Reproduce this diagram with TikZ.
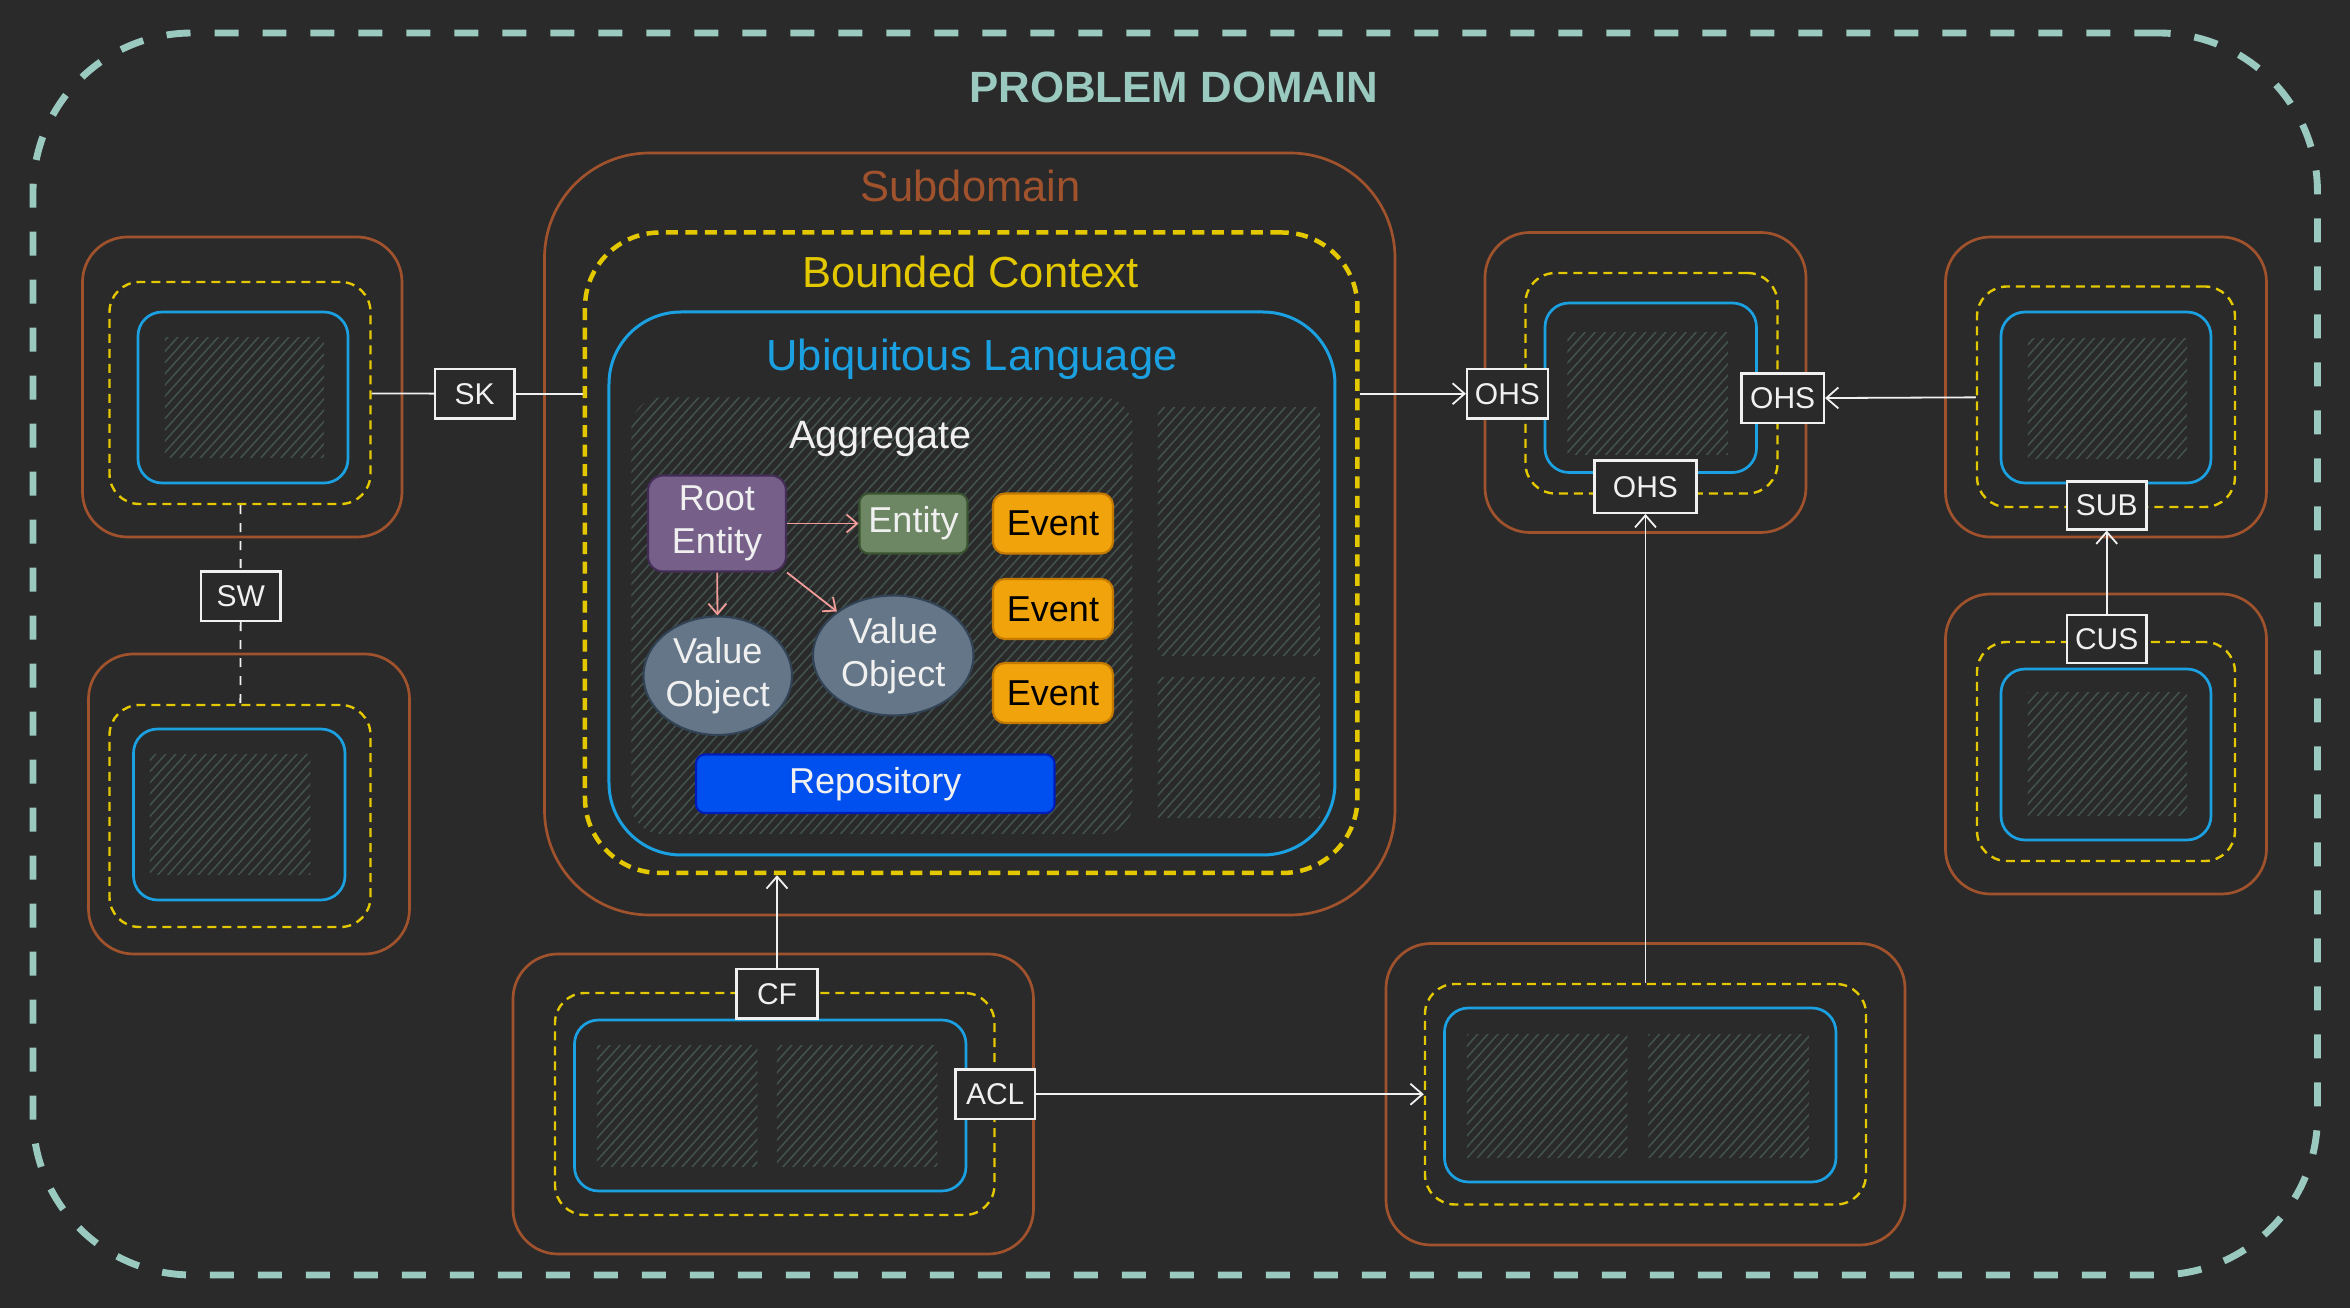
\documentclass[tikz,border=0pt]{standalone}
\usepackage{fontspec}
\setmainfont{Liberation Sans}
\usetikzlibrary{
    arrows.meta,
    patterns.meta,
    shapes.geometric,
    calc,
    positioning
}

\definecolor{bgc}{HTML}{2A2A2A}
\definecolor{domainc}{HTML}{9AC9C0}
\definecolor{brownc}{HTML}{A0522D}
\definecolor{yellowc}{HTML}{E3C800}
\definecolor{bluec}{HTML}{1BA1E2}
\definecolor{hatchc}{HTML}{43534E}
\definecolor{purplec}{HTML}{76608A}
\definecolor{purpled}{HTML}{432D57}
\definecolor{greenc}{HTML}{6D8764}
\definecolor{greend}{HTML}{3A5431}
\definecolor{orangec}{HTML}{F0A30A}
\definecolor{oranged}{HTML}{C47A00}
\definecolor{slatec}{HTML}{647687}
\definecolor{slated}{HTML}{314354}
\definecolor{repoc}{HTML}{0050EF}
\definecolor{repod}{HTML}{001DBC}
\definecolor{pinkc}{HTML}{F19C99}
\definecolor{whitec}{HTML}{F0F0F0}

\tikzset{
    sz/.style 2 args={minimum width=#1*0.5pt, minimum height=#2*0.5pt},
    problemframe/.style={draw=domainc, line width=2.3pt, dash pattern=on 8pt off 8pt, rounded corners=53pt, inner sep=0pt},
    problemtitle/.style={text=domainc, font=\bfseries\fontsize{14.6}{17}\selectfont, anchor=base},
    boxtitle/.style={font=\fontsize{14.5}{17}\selectfont, anchor=base},
    subdom/.style={draw=brownc, line width=0.9pt, inner sep=0pt},
    bcbig/.style={draw=yellowc, line width=1.5pt, dash pattern=on 4pt off 2.5pt, inner sep=0pt},
    ulbig/.style={draw=bluec, line width=1pt, inner sep=0pt},
    subsmall/.style={draw=brownc, line width=0.9pt, rounded corners=15pt, inner sep=0pt},
    bcsmall/.style={draw=yellowc, line width=0.8pt, dash pattern=on 3pt off 2pt, rounded corners=10pt, inner sep=0pt},
    ulsmall/.style={draw=bluec, line width=0.9pt, rounded corners=8pt, inner sep=0pt},
    hatch/.style={pattern={Lines[angle=48, distance=2.5pt, line width=0.5pt]}, pattern color=hatchc, inner sep=0pt},
    aggitem/.style={font=\fontsize{12}{14.5}\selectfont, inner sep=0pt, align=center, line width=0.7pt},
    rel/.style={draw=whitec, fill=bgc, line width=0.7pt, text=whitec, font=\fontsize{10}{12}\selectfont, inner sep=0pt},
    conn/.style={draw=whitec, line width=0.6pt},
    arrowtip/.style={-{Straight Barb[length=4pt, width=7pt]}},
    aggarrow/.style={draw=pinkc, line width=0.6pt, -{Straight Barb[length=3.5pt, width=6pt]}}
}

\begin{document}
\begin{tikzpicture}[x=0.5pt, y=-0.5pt]
\useasboundingbox[fill=bgc] (0,0) rectangle (1566.7,872);

\node[problemframe, sz={1523}{828}] (problem) at (783.5,436) {};
\node[problemtitle] (problemlabel) at (782.5,68.2) {PROBLEM DOMAIN};

% core subdomain
\node[subdom, sz={567}{508}, rounded corners=35pt] (sd) at (646.5,356) {};
\node[bcbig, sz={515}{427}, rounded corners=25pt] (bc) at (647.5,368.5) {};
\node[ulbig, sz={484}{362}, rounded corners=24pt] (ul) at (648,389) {};
\node[hatch, sz={334}{291}, rounded corners=10pt] (agg) at (588,410.5) {};
\node[hatch, sz={108}{165}] (sparea) at (826,354.5) {};
\node[hatch, sz={108}{93}] (sparec) at (826,498.5) {};
\node[boxtitle, text=brownc] (sdtitle) at (647,134.5) {Subdomain};
\node[boxtitle, text=yellowc] (bctitle) at (647,192) {Bounded Context};
\node[boxtitle, text=bluec] (ultitle) at (648,246.7) {Ubiquitous Language};
\node[boxtitle, text=whitec, font=\fontsize{13.2}{15}\selectfont] (aggtitle) at (587,299) {Aggregate};

\node[aggitem, fill=purplec, draw=purpled, text=whitec, rounded corners=5pt, sz={92}{64}] (root) at (478,349) {Root\\Entity};
\node[aggitem, fill=greenc, draw=greend, text=whitec, rounded corners=3pt, sz={72}{40}] (entity) at (609,349) {Entity};
\node[aggitem, fill=orangec, draw=oranged, text=black, rounded corners=4pt, sz={80}{40}] (event1) at (702,349) {Event};
\node[aggitem, fill=orangec, draw=oranged, text=black, rounded corners=4pt, sz={80}{40}] (event2) at (702,406) {Event};
\node[aggitem, fill=orangec, draw=oranged, text=black, rounded corners=4pt, sz={80}{40}] (event3) at (702,462) {Event};
\node[aggitem, ellipse, fill=slatec, draw=slated, text=whitec, sz={99}{79}] (vo1) at (478.5,450.5) {Value\\Object};
\node[aggitem, ellipse, fill=slatec, draw=slated, text=whitec, sz={107}{80}] (vo2) at (595.5,437) {Value\\Object};
\node[aggitem, fill=repoc, draw=repod, text=whitec, rounded corners=3pt, sz={239}{39}] (repo) at (583.5,522.5) {Repository};

\draw[aggarrow] (root) -- (entity);
\draw[aggarrow] (root) -- (vo1);
\draw[aggarrow] (root.south east) -- (vo2);

% left contexts
\node[subsmall, sz={213}{200}] (lt-sd) at (161.5,258) {};
\node[bcsmall, sz={174}{148}] (lt-bc) at (160,262) {};
\node[ulsmall, sz={140}{114}] (lt-ul) at (162,265) {};
\node[hatch, sz={106}{80}] (lt-h) at (163,265) {};

\node[subsmall, sz={214}{200}] (lb-sd) at (166,536) {};
\node[bcsmall, sz={174}{148}] (lb-bc) at (160,544) {};
\node[ulsmall, sz={141}{114}] (lb-ul) at (159.5,543) {};
\node[hatch, sz={107}{80}] (lb-h) at (153.5,543) {};

% right contexts
\node[subsmall, sz={214}{200}] (rm-sd) at (1097,255) {};
\node[bcsmall, sz={168}{147}] (rm-bc) at (1101,255.5) {};
\node[ulsmall, sz={141}{113}] (rm-ul) at (1100.5,258.5) {};
\node[hatch, sz={107}{81}] (rm-h) at (1098.5,262.5) {};

\node[subsmall, sz={214}{200}] (rt-sd) at (1404,258) {};
\node[bcsmall, sz={172}{147}] (rt-bc) at (1404,264.5) {};
\node[ulsmall, sz={140}{114}] (rt-ul) at (1404,265) {};
\node[hatch, sz={106}{80}] (rt-h) at (1405,266) {};

\node[subsmall, sz={214}{200}] (rb-sd) at (1404,496) {};
\node[bcsmall, sz={172}{146}] (rb-bc) at (1404,501) {};
\node[ulsmall, sz={140}{114}] (rb-ul) at (1404,503) {};
\node[hatch, sz={106}{82}] (rb-h) at (1405,503) {};

% bottom contexts
\node[subsmall, sz={347}{200}] (bl-sd) at (515.5,736) {};
\node[bcsmall, sz={293}{148}] (bl-bc) at (516.5,736) {};
\node[ulsmall, sz={261}{114}] (bl-ul) at (513.5,737) {};
\node[hatch, sz={107}{81}] (bl-ha) at (451.5,737.5) {};
\node[hatch, sz={107}{81}] (bl-hb) at (571.5,737.5) {};

\node[subsmall, sz={346}{201}] (br-sd) at (1097,729.5) {};
\node[bcsmall, sz={294}{147}] (br-bc) at (1097,729.5) {};
\node[ulsmall, sz={261}{116}] (br-ul) at (1093.5,730) {};
\node[hatch, sz={107}{82}] (br-ha) at (1031.5,731) {};
\node[hatch, sz={107}{82}] (br-hb) at (1152.5,731) {};

% relations
\node[rel, sz={53}{33}] (sk) at (316.5,262.5) {SK};
\node[rel, sz={53}{33}] (sw) at (160.5,397.5) {SW};
\node[rel, sz={54}{33}] (ohs1) at (1005,262.5) {OHS};
\node[rel, sz={55}{33}] (ohs2) at (1188.5,265.5) {OHS};
\node[rel, sz={68}{35}] (ohs3) at (1097,324.5) {OHS};
\node[rel, sz={53}{32}] (sub) at (1404.5,337) {SUB};
\node[rel, sz={53}{32}] (cus) at (1404.5,426) {CUS};
\node[rel, sz={54}{33}] (cf) at (518,662.5) {CF};
\node[rel, sz={53}{33}] (acl) at (663.5,729.5) {ACL};

\draw[conn] (lt-bc) -- (sk);
\draw[conn] (sk) -- (sk -| bc.west);
\draw[conn, dashed] (lt-bc) -- (sw);
\draw[conn, dashed] (sw) -- (lb-bc);
\draw[conn, arrowtip] (ohs1 -| bc.east) -- (ohs1);
\draw[conn, arrowtip] (rt-bc) -- (ohs2);
\draw[conn, arrowtip] (br-bc) -- (ohs3);
\draw[conn, arrowtip] (cus) -- (sub);
\draw[conn, arrowtip] (cf) -- (cf |- bc.south);
\draw[conn, arrowtip] (acl) -- (acl -| br-bc.west);
\end{tikzpicture}
\end{document}
